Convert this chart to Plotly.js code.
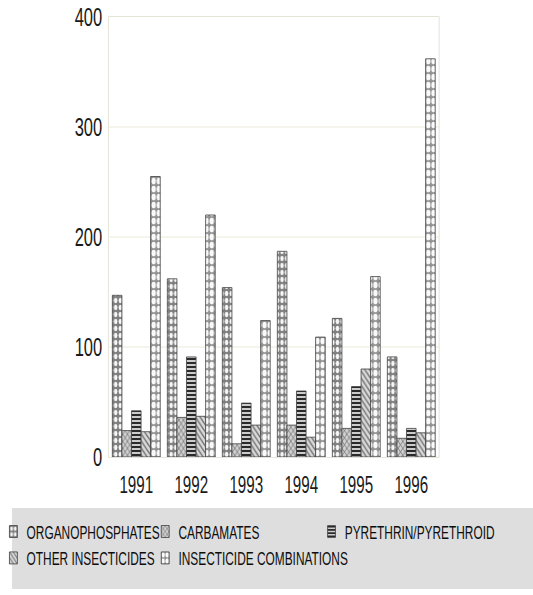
<!DOCTYPE html>
<html>
<head>
<meta charset="utf-8">
<script src="https://cdn.plot.ly/plotly-3.0.1.min.js"></script>
<style>
  html, body { margin: 0; padding: 0; background: #ffffff; }
  #frame { width: 533px; height: 595px; overflow: hidden; position: relative; background: #ffffff; }
  /* grey panel behind the legend rows */
  #legend-panel { position: absolute; left: 12px; top: 508px; width: 521px; height: 81px; background: #dedede; }
  /* the chart is laid out wide and narrowed horizontally, giving the condensed lettering */
  #chart { position: absolute; left: -12px; top: 0; width: 826px; height: 595px;
           transform: scaleX(0.66); transform-origin: 0 0; }
</style>
</head>
<body>
<div id="frame"><div id="legend-panel"></div><div id="chart"></div></div>
<script>
// Insecticide exposures by class, 1991-1996
const years = ['1991', '1992', '1993', '1994', '1995', '1996'];
const organophosphates = [147, 162, 154, 187, 126, 91];
const carbamates = [24, 36, 12, 29, 26, 17];
const pyrethrins = [42, 91, 49, 60, 64, 26];
const otherInsecticides = [23, 37, 29, 18, 80, 22];
const combinations = [255, 220, 124, 109, 164, 362];

const seriesNames = [
  'ORGANOPHOSPHATES',
  'CARBAMATES',
  'PYRETHRIN/PYRETHROID',
  'OTHER INSECTICIDES',
  'INSECTICIDE COMBINATIONS'
];
const yTicks = [0, 100, 200, 300, 400];

const outline = { color: '#454545', width: 1 };

function barTrace(name, values, pattern, legendId) {
  return {
    type: 'bar',
    name: name,
    x: years,
    y: values,
    legend: legendId,
    marker: { color: pattern.bgcolor, line: outline, pattern: pattern },
    hoverinfo: 'x+y+name'
  };
}

const traces = [
  barTrace(seriesNames[0], organophosphates,
    { shape: '.', bgcolor: '#7f7f7f', fgcolor: '#f6f6f6', size: 7, solidity: 0.45 }, 'legend'),
  barTrace(seriesNames[1], carbamates,
    { shape: 'x', bgcolor: '#d2d2d2', fgcolor: '#6a6a6a', size: 5, solidity: 0.3 }, 'legend2'),
  barTrace(seriesNames[2], pyrethrins,
    { shape: '-', bgcolor: '#cccccc', fgcolor: '#2a2a2a', size: 4, solidity: 0.5 }, 'legend3'),
  barTrace(seriesNames[3], otherInsecticides,
    { shape: '\\', bgcolor: '#dadada', fgcolor: '#747474', size: 5, solidity: 0.35 }, 'legend'),
  barTrace(seriesNames[4], combinations,
    { shape: '.', bgcolor: '#929292', fgcolor: '#fafafa', size: 8, solidity: 0.55 }, 'legend2')
];

const tickFont = { family: 'Liberation Sans, Arial, sans-serif', size: 23, color: '#1a1a1a' };
const legendFont = { family: 'Liberation Sans, Arial, sans-serif', size: 18, color: '#0d0d0d' };

function legendAt(x) {
  return {
    x: x, y: -0.128, xanchor: 'left', yanchor: 'top',
    orientation: 'v', bgcolor: 'rgba(0,0,0,0)', borderwidth: 0,
    font: legendFont, tracegroupgap: 0, itemclick: false, itemdoubleclick: false
  };
}

const layout = {
  width: 826,
  height: 595,
  margin: { l: 183, r: 143, t: 17, b: 138 },
  paper_bgcolor: 'rgba(0,0,0,0)',
  plot_bgcolor: '#ffffff',
  barmode: 'group',
  bargap: 0.13,
  bargroupgap: 0,
  showlegend: true,
  legend: legendAt(-0.329),
  legend2: legendAt(0.131),
  legend3: legendAt(0.635),
  xaxis: {
    type: 'category',
    tickfont: tickFont,
    ticks: '',
    ticklabelstandoff: 7,
    showgrid: false,
    showline: true,
    linecolor: '#deded0',
    linewidth: 1,
    mirror: true,
    fixedrange: true
  },
  yaxis: {
    range: [0, 400],
    tickvals: yTicks,
    ticktext: yTicks.map(String),
    tickfont: { family: 'Liberation Sans, Arial, sans-serif', size: 25, color: '#1a1a1a' },
    ticks: '',
    ticklabelstandoff: 4,
    showgrid: true,
    gridcolor: '#e6e6d4',
    gridwidth: 1,
    zeroline: false,
    showline: true,
    linecolor: '#deded0',
    linewidth: 1,
    mirror: true,
    fixedrange: true
  }
};

Plotly.newPlot('chart', traces, layout, { staticPlot: true, displayModeBar: false });
</script>
</body>
</html>
